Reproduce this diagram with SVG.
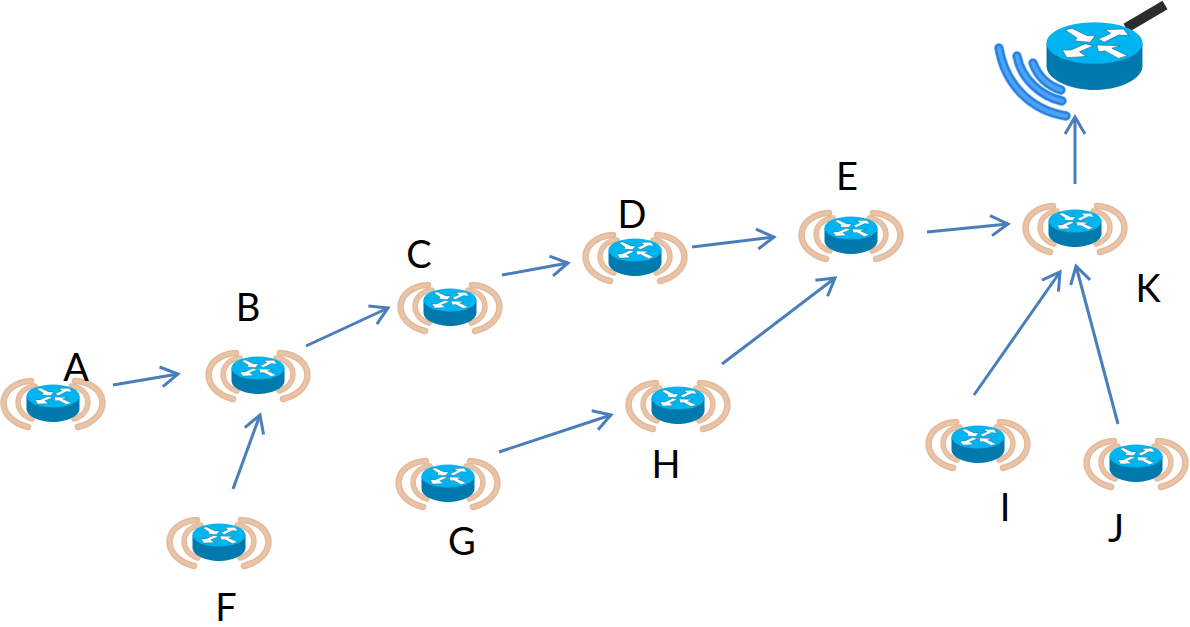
<svg xmlns="http://www.w3.org/2000/svg" width="1190" height="627" viewBox="0 0 1190 627">
<style>
.lb{font-family:Lato,"Liberation Sans",Arial,sans-serif;font-size:38px;fill:#000;text-anchor:middle}
.cn{fill:none;stroke:#4a7ebb;stroke-width:3;marker-end:url(#ah)}
.arc{fill:none;stroke:#e4b998;stroke-linecap:round}
.arl{fill:none;stroke:#e9c4a9;stroke-linecap:round}
.arw{fill:#fff;stroke:#0a3a55;stroke-width:.25}
.wv{fill:none;stroke-linecap:round}
</style>
<defs>
<marker id="ah" markerUnits="userSpaceOnUse" markerWidth="24" markerHeight="24" refX="20" refY="10" orient="auto" overflow="visible">
<path d="M3 0L20 10L3 20" fill="none" stroke="#4a7ebb" stroke-width="3"/>
</marker>
<g id="r">
<path d="M-26.500 0V13C-26 21 -12 26 0 26S26 21 26.500 13V0Z" fill="#0079ad"/>
<ellipse cx="0" cy="0" rx="26.500" ry="11.500" fill="#00b4f0"/>
<path class="arw" d="M-16.200 -7.200L-12.500 -8.100L-4.200 -4.100L.4 -4.100L-2.400 -.4L-10.700 -1.100L-9.800 -2.900Z"/>
<path class="arw" d="M2.200 -2.200L9 -5.300L5.900 -7.400L16 -7.700L18.800 -4.100L13.300 -4.400L5.300 -.4Z"/>
<path class="arw" d="M-.6 1.500L-8.300 4.800L-4.600 7.400L-15.300 8.100L-17.700 3.900L-13 3.900L-5.200 .4Z"/>
<path class="arw" d="M18.200 7L13.300 8.500L5.900 4.400L2.200 4.800L1.300 1.100L14.200 1.500L9.600 2.900Z"/>
</g>
<path id="a1" d="M-22 -15C-56 -13 -60 22 -25 31"/>
<path id="a2" d="M-18 -10C-39 -8 -41 17 -21 23"/>
<g id="n">
<use href="#a1" class="arc" stroke-width="6.500"/><use href="#a1" class="arl" stroke-width="3.500"/>
<use href="#a2" class="arc" stroke-width="5.500"/><use href="#a2" class="arl" stroke-width="3"/>
<g transform="scale(-1 1)">
<use href="#a1" class="arc" stroke-width="6.500"/><use href="#a1" class="arl" stroke-width="3.500"/>
<use href="#a2" class="arc" stroke-width="5.500"/><use href="#a2" class="arl" stroke-width="3"/>
</g>
<use href="#r"/>
</g>
<path id="w1" d="M999 48C1005 84 1030 110 1066 116"/>
<path id="w2" d="M1017 56C1021 78 1040 96 1062 101"/>
<path id="w3" d="M1033 63C1037 74 1046 85 1061 90"/>
</defs>
<rect width="1190" height="627" fill="#fff"/>
<g id="connectors">
<path class="cn" d="M113 385L178 374"/>
<path class="cn" d="M306 346L388 308"/>
<path class="cn" d="M502 275L568 263"/>
<path class="cn" d="M692 247L774 237"/>
<path class="cn" d="M927 232L1008 224"/>
<path class="cn" d="M1075 184V117"/>
<path class="cn" d="M233 489L260 415"/>
<path class="cn" d="M499 452L611 415"/>
<path class="cn" d="M722 364L835 278"/>
<path class="cn" d="M974 395L1060 272"/>
<path class="cn" d="M1118 424L1076 266"/>
</g>
<g id="node-A"><use href="#n" x="53" y="396"/><text class="lb" x="76" y="381">A</text></g>
<g id="node-B"><use href="#n" x="258" y="368"/><text class="lb" x="248" y="321">B</text></g>
<g id="node-C"><use href="#n" x="450" y="300"/><text class="lb" x="419" y="268">C</text></g>
<g id="node-D"><use href="#n" x="635" y="250"/><text class="lb" x="632" y="228">D</text></g>
<g id="node-E"><use href="#n" x="851" y="228"/><text class="lb" x="847" y="190">E</text></g>
<g id="node-F"><use href="#n" x="219" y="535"/><text class="lb" x="226" y="621">F</text></g>
<g id="node-G"><use href="#n" x="448" y="476"/><text class="lb" x="462" y="555">G</text></g>
<g id="node-H"><use href="#n" x="678" y="398"/><text class="lb" x="666" y="478">H</text></g>
<g id="node-I"><use href="#n" x="978" y="437"/><text class="lb" x="1005" y="521">I</text></g>
<g id="node-J"><use href="#n" x="1136" y="456"/><text class="lb" x="1116" y="542">J</text></g>
<g id="node-K"><use href="#n" x="1075" y="221"/><text class="lb" x="1148" y="302">K</text></g>
<g id="gateway">
<path d="M1126 28L1165 5" stroke="#2d2d2d" stroke-width="10" fill="none"/>
<use href="#w1" class="wv" stroke="#8fc4f4" stroke-width="10"/><use href="#w1" class="wv" stroke="#2a80e2" stroke-width="8.500"/><use href="#w1" class="wv" stroke="#4aa3f5" stroke-width="4"/>
<use href="#w2" class="wv" stroke="#8fc4f4" stroke-width="10"/><use href="#w2" class="wv" stroke="#2a80e2" stroke-width="8.500"/><use href="#w2" class="wv" stroke="#4aa3f5" stroke-width="4"/>
<use href="#w3" class="wv" stroke="#8fc4f4" stroke-width="10"/><use href="#w3" class="wv" stroke="#2a80e2" stroke-width="8.500"/><use href="#w3" class="wv" stroke="#4aa3f5" stroke-width="4"/>
<g transform="translate(1094.500 43) scale(1.810)"><use href="#r"/></g>
</g>
</svg>
